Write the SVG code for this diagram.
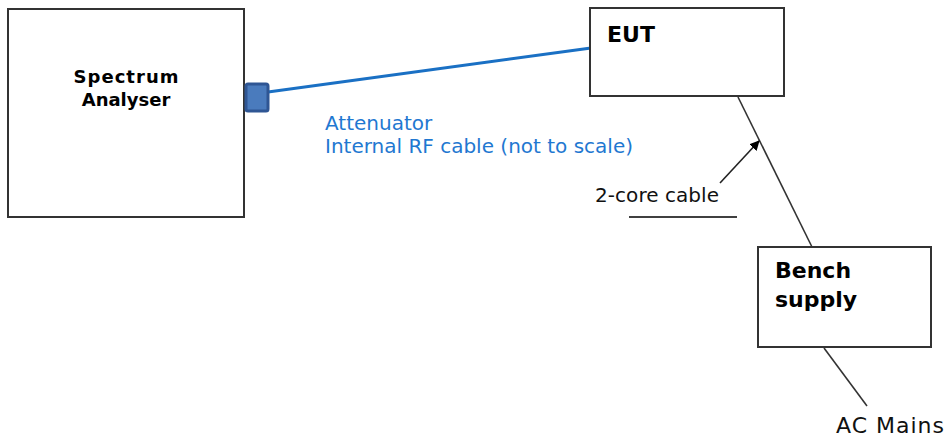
<svg xmlns="http://www.w3.org/2000/svg" width="950" height="441" viewBox="0 0 950 441">
<style>
.box{fill:#fff;stroke:#333;stroke-width:2}
.bt{font-family:"DejaVu Sans",Verdana,sans-serif;font-weight:bold;fill:#000}
.t{font-family:"DejaVu Sans",Verdana,sans-serif;fill:#111}
.bl{font-family:"DejaVu Sans",Verdana,sans-serif;fill:#1f78d1}
.wire{stroke:#333;stroke-width:1.6;fill:none}
</style>
<defs>
<marker id="ah" markerWidth="10" markerHeight="10" refX="9" refY="5" orient="auto" markerUnits="userSpaceOnUse">
<path d="M0,0 L10,5 L0,10 z" fill="#000"/>
</marker>
</defs>
<rect width="950" height="441" fill="#fff"/>
<g id="connectors">
<line x1="268" y1="92" x2="591" y2="48" stroke="#1a70c4" stroke-width="3"/>
<line class="wire" x1="738" y1="97" x2="812" y2="247"/>
<line class="wire" x1="824" y1="348" x2="867" y2="406"/>
<line x1="720" y1="183" x2="759" y2="141" stroke="#222" stroke-width="1.6" marker-end="url(#ah)"/>
<line x1="629" y1="217" x2="737" y2="217" stroke="#000" stroke-width="1.6"/>
</g>
<g id="spectrum-analyser">
<rect class="box" x="8" y="9" width="236" height="208"/>
<text class="bt" x="126" y="83" font-size="18" text-anchor="middle" textLength="105">Spectrum</text>
<text class="bt" x="126" y="106" font-size="18" text-anchor="middle">Analyser</text>
</g>
<g id="attenuator">
<rect x="246" y="84" width="22" height="27" rx="2" fill="#4a7bbd" stroke="#2f5694" stroke-width="3"/>
</g>
<g id="eut">
<rect class="box" x="590" y="8" width="194" height="88"/>
<text class="bt" x="607" y="42" font-size="22">EUT</text>
</g>
<g id="bench-supply">
<rect class="box" x="758" y="247" width="173" height="100"/>
<text class="bt" x="775" y="278" font-size="22">Bench</text>
<text class="bt" x="775" y="307" font-size="22">supply</text>
</g>
<g id="labels">
<text class="bl" x="325" y="130" font-size="20">Attenuator</text>
<text class="bl" x="325" y="153" font-size="20" textLength="308">Internal RF cable (not to scale)</text>
<text class="t" x="595" y="202" font-size="20" textLength="124">2-core cable</text>
<text class="t" x="836" y="433" font-size="22" textLength="108">AC Mains</text>
</g>
</svg>
